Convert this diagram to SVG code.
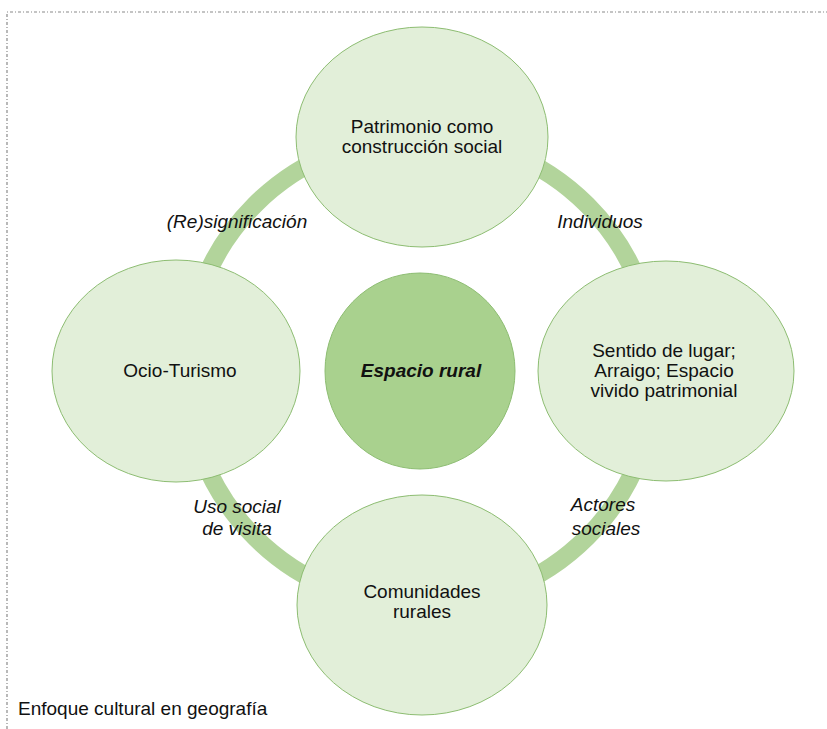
<svg xmlns="http://www.w3.org/2000/svg" width="827" height="729" viewBox="0 0 827 729">
<style>
.node{fill:#e2efd9;stroke:#8dbd72;stroke-width:1}
.core{fill:#a9d18e;stroke:#8dbd72;stroke-width:1}
.t{font-family:"Liberation Sans",Arial,sans-serif;font-size:19px;fill:#111111;text-anchor:middle}
.lbl{font-family:"Liberation Sans",Arial,sans-serif;font-size:19px;font-style:italic;fill:#111111;text-anchor:middle}
.frame{fill:none;stroke:#8a8a8a;stroke-width:1.2;stroke-dasharray:3,2,1,2}
</style>
<rect width="827" height="729" fill="#ffffff"/>
<path class="frame" d="M7,729 V12 H827"/>
<g id="connectors">
<circle cx="421" cy="371" r="235" fill="none" stroke="#b2d49b" stroke-width="18"/>
</g>
<g id="node-patrimonio">
<ellipse class="node" cx="422" cy="137" rx="126" ry="110"/>
<text class="t" x="422" y="133">Patrimonio como</text>
<text class="t" x="422" y="153">construcción social</text>
</g>
<g id="node-ocio">
<ellipse class="node" cx="176" cy="371" rx="124" ry="111"/>
<text class="t" x="180" y="377">Ocio-Turismo</text>
</g>
<g id="node-sentido">
<ellipse class="node" cx="666" cy="371" rx="128" ry="110"/>
<text class="t" x="664" y="357">Sentido de lugar;</text>
<text class="t" x="664" y="377">Arraigo; Espacio</text>
<text class="t" x="664" y="397">vivido patrimonial</text>
</g>
<g id="node-comunidades">
<ellipse class="node" cx="422" cy="605" rx="125" ry="110"/>
<text class="t" x="422" y="598">Comunidades</text>
<text class="t" x="422" y="618">rurales</text>
</g>
<g id="node-espacio">
<ellipse class="core" cx="420" cy="371" rx="95" ry="98"/>
<text class="t" x="421" y="377" font-weight="bold" font-style="italic">Espacio rural</text>
</g>
<g id="labels">
<text class="lbl" x="237" y="228">(Re)significación</text>
<text class="lbl" x="600" y="228">Individuos</text>
<text class="lbl" x="237" y="513">Uso social</text>
<text class="lbl" x="237" y="535">de visita</text>
<text class="lbl" x="603" y="511">Actores</text>
<text class="lbl" x="606" y="535">sociales</text>
</g>
<text x="18" y="715" font-family="Liberation Sans, Arial, sans-serif" font-size="19" fill="#111111">Enfoque cultural en geografía</text>
</svg>
